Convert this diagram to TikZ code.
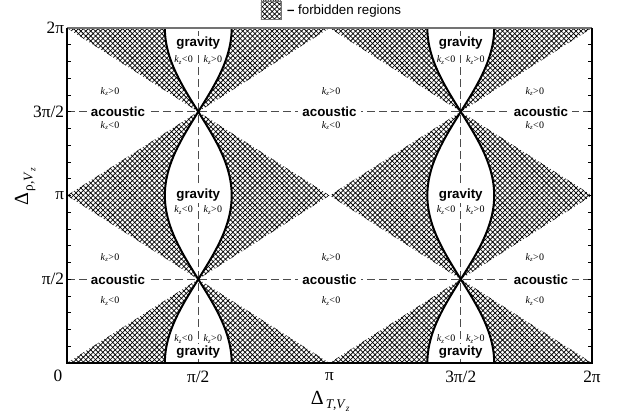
\documentclass[tikz,border=0pt]{standalone}
\usepackage{fontspec}
\setmainfont{Liberation Serif}
\setsansfont{Liberation Sans}
\usetikzlibrary{patterns.meta}

% sign of the vertical wave number
\newcommand{\kzsign}[1]{\textit{k}\raisebox{-0.3ex}{\fontsize{5}{5}\selectfont\textit{z}}\kern0.3pt#1\kern0.3pt0}

\tikzset{
  forbidden/.style={pattern={Lines[angle=45,distance=2.6pt,line width=0.55pt]},
    postaction={pattern={Lines[angle=-45,distance=2.6pt,line width=0.55pt]}}},
  boundary/.style={line width=1.5pt},
  guide/.style={black!70, line width=0.8pt, dash pattern=on 6pt off 3pt},
  regime/.style={font=\sffamily\bfseries\fontsize{10}{10}\selectfont, fill=white, inner xsep=3pt, inner ysep=1pt},
  wavesign/.style={font=\fontsize{7.5}{7.5}\selectfont, inner sep=0pt},
  ticklabel/.style={font=\fontsize{13}{13}\selectfont, inner sep=2pt}
}

\begin{document}
\begin{tikzpicture}[x=62.67pt, y=39.99pt]
  \useasboundingbox (-0.802,-0.994) rectangle (6.594,6.808);
  \pgfmathsetmacro{\w}{0.4}   % half width of the gravity band at y = 0, pi, 2pi
  % forbidden regions, between the diagonals and the gravity boundaries
  \foreach \col in {pi/2,3*pi/2}
    \foreach \s in {-1,1}
      \fill[forbidden] ({\col+(\s)*pi/2},0) -- ({\col},pi/2) -- ({\col+(\s)*pi/2},pi)
        -- ({\col},3*pi/2) -- ({\col+(\s)*pi/2},2*pi)
        -- plot[domain=2*pi:0, samples=121, variable=\t] ({\col+(\s)*\w*abs(cos(\t r))},\t) -- cycle;
  % dashed guides
  \foreach \v in {pi/2,3*pi/2} {
    \draw[guide] (0,\v) -- (2*pi,\v);
    \draw[guide] (\v,0) -- (\v,2*pi);
  }
  % gravity boundaries
  \foreach \col in {pi/2,3*pi/2}
    \foreach \s in {-1,1}
      \draw[boundary] plot[domain=0:2*pi, samples=121, variable=\t] ({\col+(\s)*\w*abs(cos(\t r))},\t);
  % frame and ticks
  \draw[black!55, line width=0.8pt] (0,2*pi) -- (2*pi,2*pi);
  \draw[line width=0.8pt] (0,2*pi) -- (0,0) -- (2*pi,0) -- (2*pi,2*pi);
  \foreach \i in {1,...,19} {
    \draw[line width=0.5pt] (0,\i*pi/10) -- ++(0.048,0);
    \draw[line width=0.5pt] (2*pi,\i*pi/10) -- ++(-0.048,0);
  }
  % tick labels
  \node[ticklabel, anchor=east] (y2) at (0,2*pi) {2π};
  \node[ticklabel, anchor=east] (y32) at (0,3*pi/2) {3π/2};
  \node[ticklabel, anchor=east] (y1) at (0,pi) {π};
  \node[ticklabel, anchor=east] (y12) at (0,pi/2) {π/2};
  \node[ticklabel] (zero) at (-0.108,-0.244) {0};
  \node[ticklabel] (x12) at (pi/2,-0.263) {π/2};
  \node[ticklabel] (x1) at (pi,-0.263) {π};
  \node[ticklabel] (x32) at (3*pi/2,-0.263) {3π/2};
  \node[ticklabel] (x2) at (2*pi,-0.263) {2π};
  % axis titles
  \node[rotate=90, inner sep=0pt] (ytitle) at (-0.50,3.30)
    {{\fontsize{15}{15}\selectfont Δ}\hspace{1.5pt}\raisebox{-3.5pt}{\fontsize{10}{10}\selectfont ρ,\textit{V}\raisebox{-2pt}{\fontsize{7}{7}\selectfont\textit{z}}}};
  \node[inner sep=0pt] (xtitle) at (3.15,-0.72)
    {{\fontsize{15}{15}\selectfont Δ}\hspace{1.5pt}\raisebox{-3.5pt}{\fontsize{10}{10}\selectfont\textit{T},\textit{V}\raisebox{-2pt}{\fontsize{7}{7}\selectfont\textit{z}}}};
  % gravity bands
  \foreach \col/\n in {1.5708/a,4.7124/b} {
    \node[regime] (gt\n) at (\col,6.00) {gravity};
    \node[regime] (gm\n) at (\col,3.15) {gravity};
    \node[regime] (gb\n) at (\col,0.21) {gravity};
    \foreach \y in {5.68,2.87,0.45} {
      \node[wavesign] at (\col-0.175,\y) {\kzsign{<}};
      \node[wavesign] at (\col+0.175,\y) {\kzsign{>}};
    }
  }
  % acoustic bands
  \foreach \x/\n in {0.61/l,3.1416/m,5.673/r} {
    \node[regime] (au\n) at (\x,3*pi/2) {acoustic};
    \node[regime] (ad\n) at (\x,pi/2) {acoustic};
  }
  \foreach \x in {0.515,3.16,5.60} {
    \node[wavesign] at (\x,5.09) {\kzsign{>}};
    \node[wavesign] at (\x,4.45) {\kzsign{<}};
    \node[wavesign] at (\x,1.98) {\kzsign{>}};
    \node[wavesign] at (\x,1.16) {\kzsign{<}};
  }
  % legend
  \fill[forbidden] (2.32,6.44) rectangle (2.56,6.79);
  \draw[black!55, line width=0.5pt] (2.32,6.44) rectangle (2.56,6.79);
  \node[anchor=west, inner sep=0pt, font=\sffamily\fontsize{10}{10}\selectfont] (legend) at (2.63,6.61)
    {\textbf{–} forbidden regions};
\end{tikzpicture}
\end{document}
